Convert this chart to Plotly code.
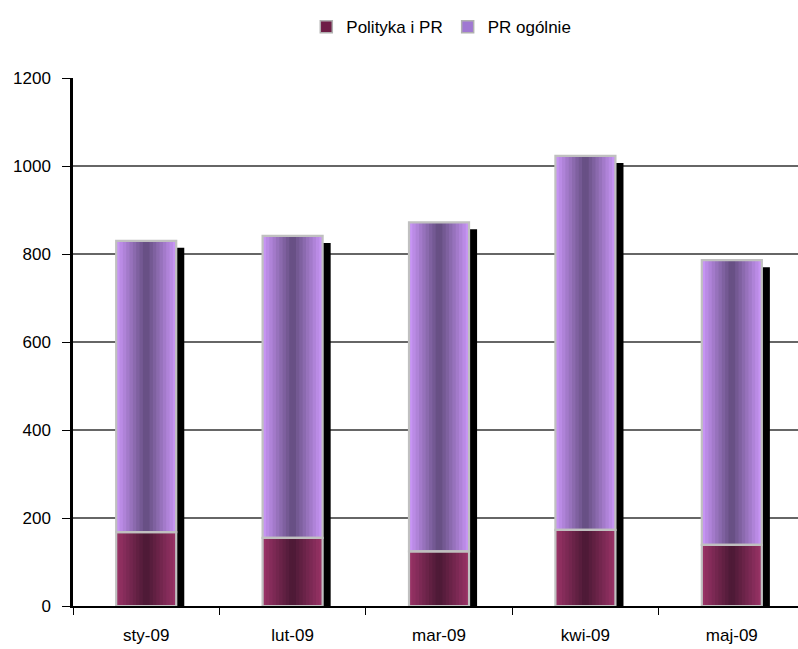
import plotly.graph_objects as go

# Monthly counts, stacked: "Polityka i PR" at the bottom, "PR ogólnie" on top
months = ["sty-09", "lut-09", "mar-09", "kwi-09", "maj-09"]
polityka_pr = [168, 155, 124, 173, 139]
pr_ogolnie = [662, 686, 748, 850, 647]
y_ticks = [0, 200, 400, 600, 800, 1000, 1200]

totals = [a + b for a, b in zip(polityka_pr, pr_ogolnie)]

BAR_W = 0.41          # bar width in category units
N_STRIPS = 18         # vertical strips that build the cylinder shading
SHADOW_DX = 0.055     # drop-shadow shift to the right (category units)
SHADOW_DY = 16        # drop-shadow shift downward (data units)

FONT = "Liberation Sans, Arial, sans-serif"


def blend(c_center, c_edge, t):
    # t in [0, 1]: 0 = left edge, 1 = right edge; darkest in the middle
    d = abs(t - 0.5) * 2
    f = d ** 1.0
    rgb = [round(cc + (ce - cc) * f) for cc, ce in zip(c_center, c_edge)]
    return "rgb({},{},{})".format(*rgb)


LOW_CENTER, LOW_EDGE = (74, 24, 52), (156, 52, 104)
UP_CENTER, UP_EDGE = (98, 76, 126), (204, 152, 250)

fig = go.Figure()

# drop shadow behind each stack
fig.add_trace(go.Bar(
    x=months, y=totals, base=[-SHADOW_DY] * len(months),
    width=BAR_W, offset=-BAR_W / 2 + SHADOW_DX,
    marker=dict(color="black", line=dict(width=0)),
    showlegend=False, hoverinfo="skip",
))

# each strip runs from its own left edge to the right edge of the bar,
# so the next strip covers the rest and no seams show between them
strip_w = BAR_W / N_STRIPS
for i in range(N_STRIPS):
    t = (i + 0.5) / N_STRIPS
    off = -BAR_W / 2 + i * strip_w
    w = BAR_W - i * strip_w
    fig.add_trace(go.Bar(
        x=months, y=polityka_pr, base=[0] * len(months),
        width=w, offset=off,
        marker=dict(color=blend(LOW_CENTER, LOW_EDGE, t), line=dict(width=0)),
        showlegend=False, hoverinfo="skip",
    ))
    fig.add_trace(go.Bar(
        x=months, y=pr_ogolnie, base=polityka_pr,
        width=w, offset=off,
        marker=dict(color=blend(UP_CENTER, UP_EDGE, t), line=dict(width=0)),
        showlegend=False, hoverinfo="skip",
    ))

# light grey outline around every segment
for vals, base in ((polityka_pr, [0] * len(months)), (pr_ogolnie, polityka_pr)):
    fig.add_trace(go.Bar(
        x=months, y=vals, base=base,
        width=BAR_W, offset=-BAR_W / 2,
        marker=dict(color="rgba(0,0,0,0)", line=dict(color="#c0c0c0", width=2.2)),
        showlegend=False, hoverinfo="skip",
    ))

# legend entries
fig.add_trace(go.Bar(
    x=months, y=[None] * len(months), name="Polityka i PR",
    marker=dict(color="rgb(110,30,70)", line=dict(color="#b0b0b0", width=1.5)),
))
fig.add_trace(go.Bar(
    x=months, y=[None] * len(months), name="PR ogólnie",
    marker=dict(color="rgb(160,120,210)", line=dict(color="#b0b0b0", width=1.5)),
))

fig.update_layout(
    width=798, height=649,
    margin=dict(l=73, r=0, t=78, b=43),
    paper_bgcolor="white", plot_bgcolor="white",
    barmode="overlay",
    font=dict(family=FONT, size=17, color="black"),
    showlegend=True,
    legend=dict(
        orientation="h", xref="container", yref="container",
        x=0.553, xanchor="center", y=0.958, yanchor="middle",
        font=dict(size=17), itemwidth=30, tracegroupgap=0,
        bgcolor="rgba(0,0,0,0)",
    ),
    xaxis=dict(
        type="category", range=[-0.5, 4.452],
        showline=True, linecolor="black", linewidth=2,
        ticks="outside", tickson="boundaries", ticklen=7, tickcolor="black",
        tickwidth=1, showgrid=False, ticklabelstandoff=13,
        tickfont=dict(size=17),
    ),
    yaxis=dict(
        range=[0, 1200], tickvals=y_ticks,
        showline=True, linecolor="black", linewidth=2.5,
        ticks="outside", ticklen=8, tickcolor="black", tickwidth=1,
        showgrid=True, gridcolor="#666666", gridwidth=1.5,
        zeroline=False, ticklabelstandoff=8,
        tickfont=dict(size=17),
    ),
)

fig.write_html("out.html")
